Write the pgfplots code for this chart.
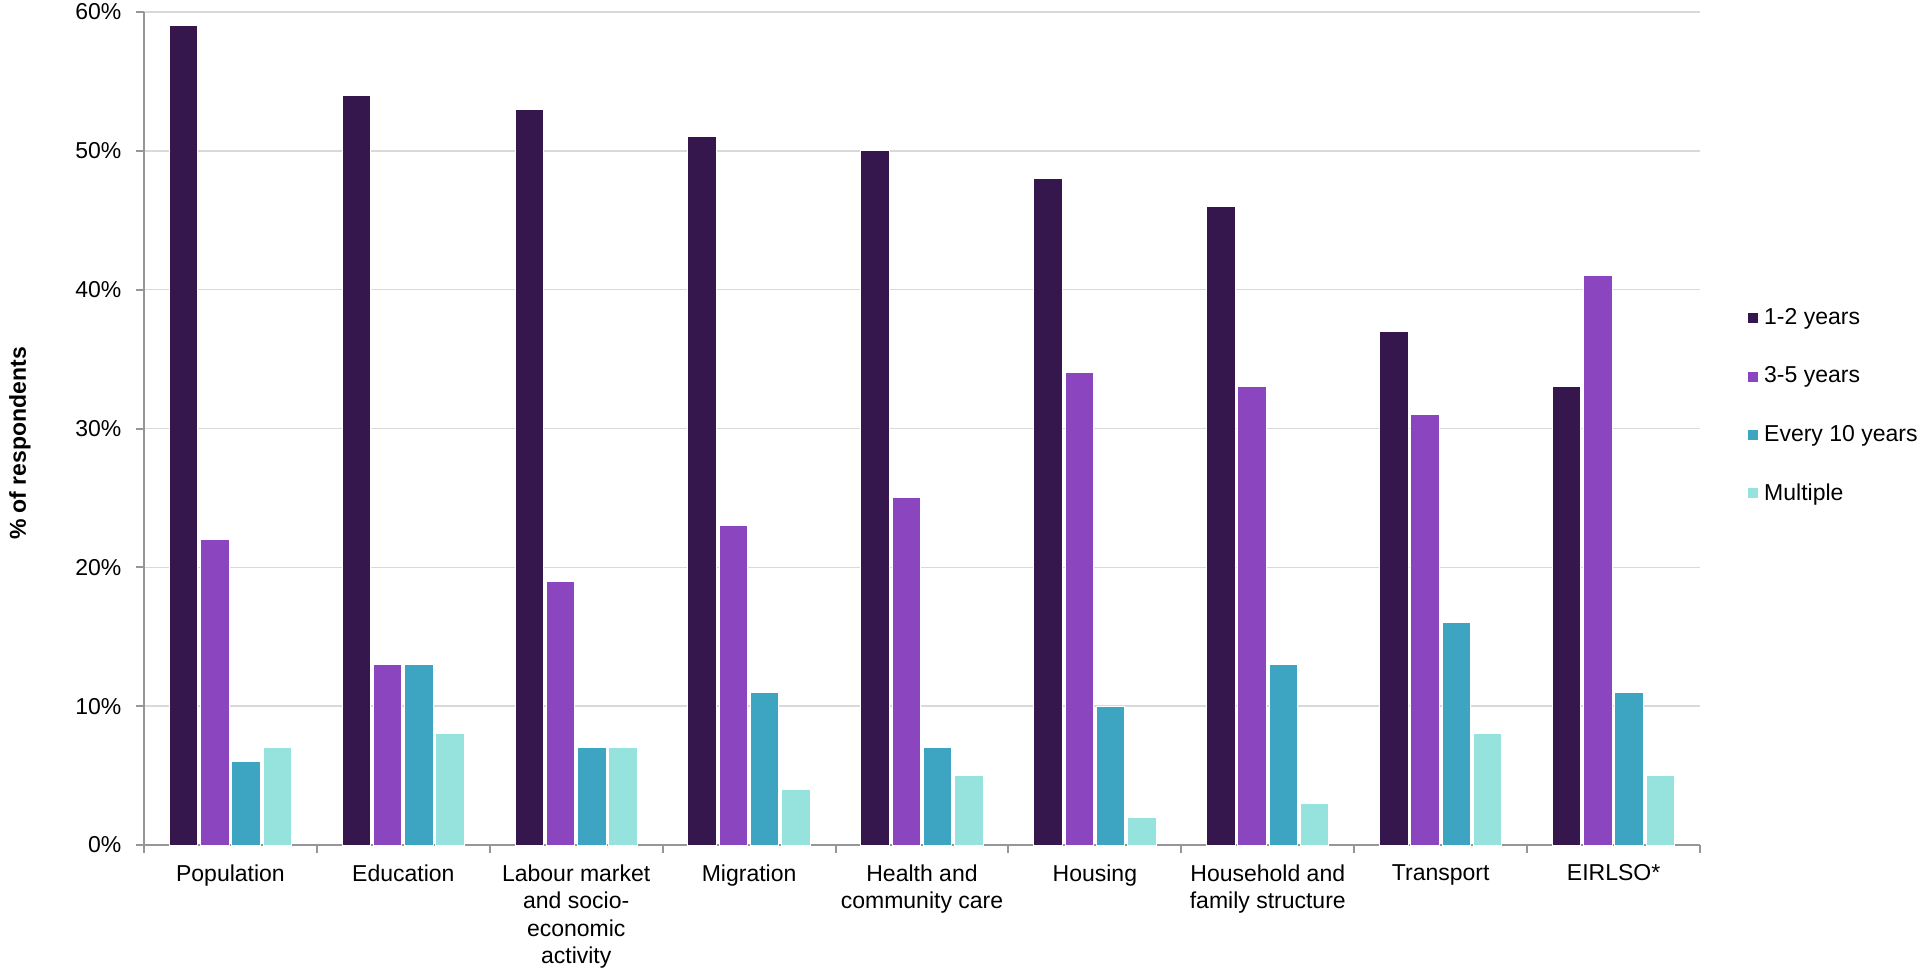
\documentclass[border=0pt]{standalone}
\usepackage{pgfplots}
\pgfplotsset{compat=1.18}
\usepackage{fontspec}
\setmainfont{Liberation Sans}
\definecolor{cA}{RGB}{53,23,78}
\definecolor{cB}{RGB}{139,69,191}
\definecolor{cC}{RGB}{61,165,194}
\definecolor{cD}{RGB}{150,227,221}
\definecolor{axgray}{RGB}{150,150,150}
\definecolor{gridgray}{RGB}{217,217,217}
\begin{document}
\begin{tikzpicture}
\fontsize{9.2}{11}\selectfont
\begin{axis}[
  scale only axis,
  width=622.4pt, height=333.2pt,
  ybar, bar width=11.4pt,
  xmin=-0.5, xmax=8.5, ymin=0, ymax=60,
  xtick={0,...,8},
  xticklabels={Population,Education,{Labour market\\and socio-\\economic\\activity},Migration,{Health and\\community care},Housing,{Household and\\family structure},Transport,EIRLSO*},
  xticklabel style={align=center, font=\fontsize{9.2}{11}\selectfont, inner sep=0pt},
  major x tick style={draw=none},
  minor xtick={-0.5,0.5,...,8.5},
  minor x tick style={draw=axgray, line width=0.8pt},
  ytick={0,10,...,60},
  yticklabel={\pgfmathprintnumber{\tick}\%},
  yticklabel style={xshift=-2.8pt},
  /pgf/number format/assume math mode=true,
  tick label style={font=\fontsize{9.2}{11}\selectfont, text=black},
  ymajorgrids, grid style={gridgray, line width=0.6pt},
  axis x line*=bottom, axis y line*=left,
  axis line style={axgray, line width=0.8pt, -},
  y tick style={draw=axgray, line width=0.8pt},
  tick align=outside, major tick length=3pt, minor tick length=3pt,
  ylabel={\textbf{\% of respondents}},
  every axis y label/.style={at={(rel axis cs:0,0.482)}, rotate=90, anchor=center, yshift=49.6pt, inner sep=0pt, font=\fontsize{9.2}{11}\selectfont},
  xticklabel shift=4.7pt,
  legend style={at={(1.03,0.527)}, anchor=west, draw=none, fill=none,
    font=\fontsize{9.2}{11}\selectfont, row sep=11.5pt, inner sep=0pt,
    legend cell align=left},
  legend image code/.code={\fill[#1] (0pt,-2.2pt) rectangle (4.4pt,2.2pt);},
  clip=false,
]
\addplot[fill=cA, draw=white, line width=0.4pt, bar shift=-18.75pt] coordinates {(0,59) (1,54) (2,53) (3,51) (4,50) (5,48) (6,46) (7,37) (8,33)};
\addplot[fill=cB, draw=white, line width=0.4pt, bar shift=-6.25pt] coordinates {(0,22) (1,13) (2,19) (3,23) (4,25) (5,34) (6,33) (7,31) (8,41)};
\addplot[fill=cC, draw=white, line width=0.4pt, bar shift=6.25pt] coordinates {(0,6) (1,13) (2,7) (3,11) (4,7) (5,10) (6,13) (7,16) (8,11)};
\addplot[fill=cD, draw=white, line width=0.4pt, bar shift=18.75pt] coordinates {(0,7) (1,8) (2,7) (3,4) (4,5) (5,2) (6,3) (7,8) (8,5)};
\legend{1-2 years,3-5 years,Every 10 years,Multiple}
\end{axis}
\pgfresetboundingbox
\path ([xshift=-57.6pt,yshift=-49.6pt]current axis.south west) rectangle ([xshift=90.4pt,yshift=4.8pt]current axis.north east);
\end{tikzpicture}
\end{document}
